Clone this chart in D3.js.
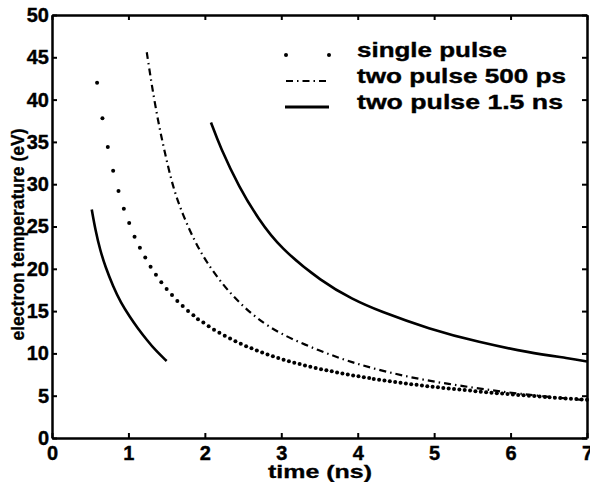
<!DOCTYPE html>
<html>
<head>
<meta charset="utf-8">
<script src="https://cdn.jsdelivr.net/npm/d3@7"></script>
<style>
  html, body { margin: 0; padding: 0; background: #fff; }
  svg { display: block; }
  text { font-family: "Liberation Sans", Arial, sans-serif; font-weight: bold; fill: #000; }
</style>
</head>
<body>
<svg id="chart" width="590" height="482"></svg>
<script>
// ---- data ----
const xTicks = [0, 1, 2, 3, 4, 5, 6, 7];
const yTicks = [0, 5, 10, 15, 20, 25, 30, 35, 40, 45, 50];

const seriesNames = ["single pulse", "two pulse 500 ps", "two pulse 1.5 ns"];

const singleTime = [0.59,0.66,0.73,0.80,0.87,0.94,1.01,1.08,1.15,1.22,1.29,1.36,1.43,1.50,
  1.57,1.64,1.71,1.78,1.85,1.91,1.98,2.05,2.12,2.19,
  2.26,2.33,2.40,2.47,2.54,2.61,2.68,2.75,2.82,2.89,
  2.96,3.03,3.10,3.17,3.24,3.31,3.38,3.45,3.52,3.59,
  3.66,3.73,3.80,3.87,3.94,4.01,4.08,4.15,4.21,4.28,
  4.35,4.42,4.49,4.56,4.63,4.70,4.77,4.84,4.91,4.98,
  5.05,5.12,5.19,5.26,5.33,5.40,5.47,5.54,5.61,5.68,
  5.75,5.82,5.89,5.96,6.03,6.10,6.17,6.24,6.31,6.38,
  6.45,6.51,6.58,6.65,6.72,6.79,6.86,6.93,7.00];
const singleTemp = [42.0,37.8,34.4,31.6,29.2,27.1,25.4,23.8,22.5,21.35,20.25,19.3,18.4,17.6,
  16.9,16.2,15.6,15.0,14.5,14.05,13.65,13.2,12.8,12.45,
  12.1,11.75,11.45,11.15,10.85,10.6,10.35,10.1,9.87,9.65,
  9.45,9.25,9.07,8.90,8.74,8.57,8.42,8.28,8.13,8.00,
  7.88,7.74,7.63,7.50,7.39,7.29,7.18,7.08,6.98,6.89,
  6.79,6.70,6.61,6.52,6.44,6.36,6.29,6.21,6.13,6.06,
  5.99,5.92,5.85,5.78,5.72,5.66,5.60,5.53,5.47,5.42,
  5.36,5.30,5.25,5.20,5.14,5.09,5.04,5.00,4.95,4.90,
  4.86,4.81,4.76,4.72,4.68,4.64,4.60,4.56,4.51];

const p500Time = [1.24,1.30,1.39,1.48,1.58,1.71,1.87,2.02,2.24,2.45,2.67,2.98,3.50,3.93,4.40,4.89,5.40,5.90,6.40,7.00];
const p500Temp = [45.6,42.0,37.3,33.6,29.7,26.4,23.2,20.8,18.05,16.0,14.2,12.3,10.3,8.9,7.75,6.8,6.1,5.45,4.95,4.45];

const p15aTime = [0.52,0.57,0.63,0.70,0.80,0.90,1.02,1.12,1.24,1.36,1.50];
const p15aTemp = [27.0,24.5,22.2,20.2,17.9,16.0,14.3,13.0,11.6,10.3,9.1];

const p15bTime = [2.08,2.20,2.45,2.70,2.98,3.54,3.93,4.28,4.93,5.59,6.24,6.78,7.00];
const p15bTemp = [37.3,34.4,29.6,25.9,22.5,18.4,16.4,15.0,12.9,11.3,10.1,9.4,9.05];

// ---- chart ----
const svg = d3.select("#chart");
const mLeft = 52, mRight = 587, mTop = 15, mBottom = 438;

const x = d3.scaleLinear().domain([0, 7]).range([mLeft, mRight]);
const y = d3.scaleLinear().domain([0, 50]).range([mBottom, mTop]);

const zip = (a, b) => a.map((v, i) => [v, b[i]]);

// axes
function styleAxis(g) {
  g.select(".domain").attr("stroke", "#000").attr("stroke-width", 2.5);
  g.selectAll(".tick line").attr("stroke", "#000").attr("stroke-width", 2);
  g.selectAll(".tick text").style("font-size", "20px").style("font-weight", "bold")
    .style("font-family", '"Liberation Sans", Arial, sans-serif').attr("fill", "#000")
    .attr("stroke", "#000").attr("stroke-width", 0.4);
}

svg.append("g").attr("transform", `translate(0,${mBottom})`)
  .call(d3.axisBottom(x).tickValues(xTicks).tickSize(-5).tickSizeOuter(0).tickPadding(8).tickFormat(d3.format("d")))
  .call(styleAxis);
svg.append("g").attr("transform", `translate(0,${mTop})`)
  .call(d3.axisTop(x).tickValues(xTicks).tickSize(-5).tickSizeOuter(0).tickFormat(""))
  .call(styleAxis);
svg.append("g").attr("transform", `translate(${mLeft},0)`)
  .call(d3.axisLeft(y).tickValues(yTicks).tickSize(-5).tickSizeOuter(0).tickPadding(3).tickFormat(d3.format("d")))
  .call(styleAxis);
svg.append("g").attr("transform", `translate(${mRight},0)`)
  .call(d3.axisRight(y).tickValues(yTicks).tickSize(-5).tickSizeOuter(0).tickFormat(""))
  .call(styleAxis);

// axis titles
svg.append("text").attr("x", 268).attr("y", 478)
  .attr("textLength", 104).attr("lengthAdjust", "spacingAndGlyphs")
  .style("font-size", "18px").attr("stroke", "#000").attr("stroke-width", 0.3).text("time (ns)");
svg.append("text").attr("transform", `translate(24,${(mTop + mBottom) / 2 + 8}) rotate(-90)`)
  .attr("text-anchor", "middle").style("font-size", "17.5px")
  .attr("stroke", "#000").attr("stroke-width", 0.3).text("electron temperature (eV)");

// lines
const line = d3.line().x(d => x(d[0])).y(d => y(d[1])).curve(d3.curveBasis);

svg.append("path").datum(zip(p15aTime, p15aTemp)).attr("d", line)
  .attr("fill", "none").attr("stroke", "#000").attr("stroke-width", 2.6);
svg.append("path").datum(zip(p15bTime, p15bTemp)).attr("d", line)
  .attr("fill", "none").attr("stroke", "#000").attr("stroke-width", 2.6);
svg.append("path").datum(zip(p500Time, p500Temp)).attr("d", line)
  .attr("fill", "none").attr("stroke", "#000").attr("stroke-width", 2.2)
  .attr("stroke-dasharray", "7,4,1.5,4");

svg.append("g").selectAll("circle").data(zip(singleTime, singleTemp)).join("circle")
  .attr("cx", d => x(d[0])).attr("cy", d => y(d[1])).attr("r", 2).attr("fill", "#000");

// legend
const lgX1 = 286, lgX2 = 329, lgText = 357;
const rowY = [55, 81, 107];
const lg = svg.append("g");
lg.selectAll("circle.lg").data([lgX1, lgX2]).join("circle")
  .attr("cx", d => d).attr("cy", rowY[0]).attr("r", 2).attr("fill", "#000");
lg.append("line").attr("x1", lgX1).attr("x2", lgX2).attr("y1", rowY[1]).attr("y2", rowY[1])
  .attr("stroke", "#000").attr("stroke-width", 2).attr("stroke-dasharray", "7,4,1.5,4");
lg.append("line").attr("x1", lgX1 - 1).attr("x2", lgX2).attr("y1", rowY[2]).attr("y2", rowY[2])
  .attr("stroke", "#000").attr("stroke-width", 3);
const lgWidths = [150, 209, 206];
lg.selectAll("text").data(seriesNames).join("text")
  .attr("x", lgText).attr("y", (d, i) => rowY[i] + 2)
  .attr("textLength", (d, i) => lgWidths[i]).attr("lengthAdjust", "spacingAndGlyphs")
  .attr("stroke", "#000").attr("stroke-width", 0.4)
  .style("font-size", "21px").text(d => d);
</script>
</body>
</html>
